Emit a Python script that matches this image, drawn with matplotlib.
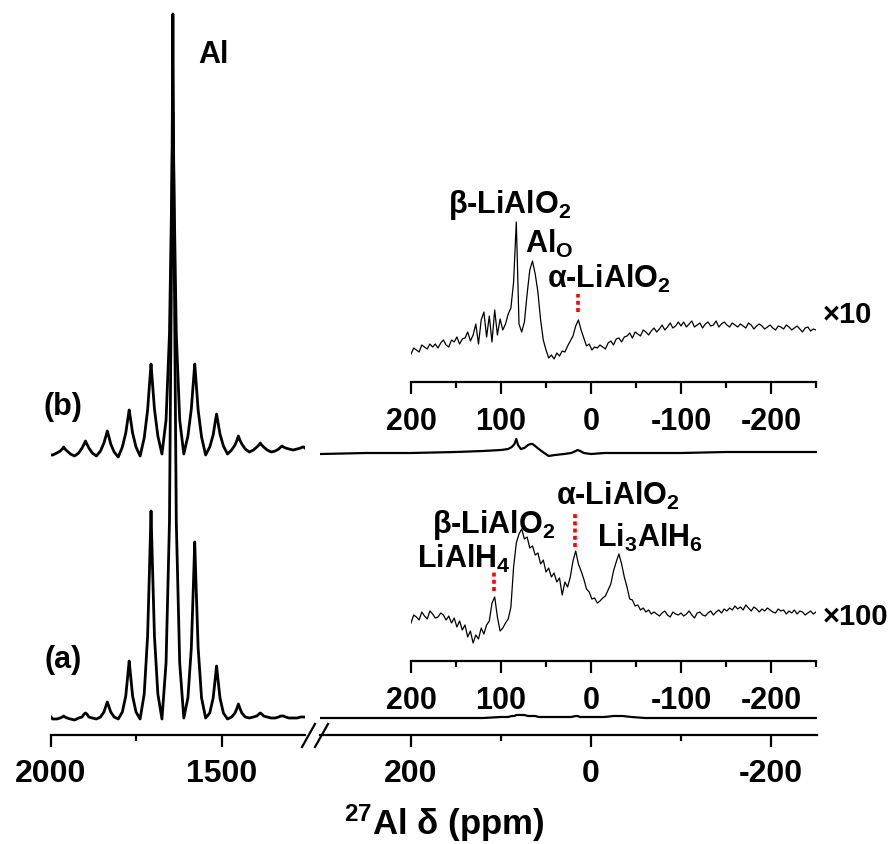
import numpy as np
import matplotlib
matplotlib.use('Agg')
import matplotlib.pyplot as plt
from matplotlib.lines import Line2D

plt.rcParams['font.family'] = ['Liberation Sans', 'DejaVu Sans']
plt.rcParams['font.weight'] = 'bold'
plt.rcParams['mathtext.fontset'] = 'custom'
plt.rcParams['mathtext.rm'] = 'Liberation Sans:bold'
plt.rcParams['mathtext.bf'] = 'Liberation Sans:bold'
plt.rcParams['mathtext.it'] = 'Liberation Sans:bold'
plt.rcParams['mathtext.default'] = 'rm'
plt.rcParams['axes.unicode_minus'] = False

# spinning sideband region (ppm) shared by both spectra
left_ppm = [2000, 1995,
            1983, 1973, 1967, 1963, 1959, 1953, 1943, 1931,
            1919, 1909, 1903, 1899, 1895, 1889, 1879, 1867,
            1855, 1845, 1839, 1835, 1831, 1825, 1815, 1803,
            1791, 1781, 1775, 1771, 1767, 1761, 1751, 1739,
            1727, 1717, 1711, 1707, 1703, 1697, 1687, 1675,
            1663, 1653, 1647, 1643, 1639, 1633, 1623, 1611,
            1599, 1589, 1583, 1579, 1575, 1569, 1559, 1547,
            1535, 1525, 1519, 1515, 1511, 1505, 1495, 1483,
            1471, 1461, 1455, 1451, 1447, 1441, 1431, 1419,
            1407, 1397, 1391, 1387, 1383, 1377, 1367, 1355,
            1343, 1333, 1327, 1323, 1319, 1313, 1303, 1291,
            1279, 1269, 1263, 1259, 1256]
left_a = [2, 0,
          0, 1, 2, 3, 2, 1, 0, -1,
          1, 2, 5, 6, 5, 2, 1, 0,
          2, 7, 13, 17, 13, 7, 2, 0,
          7, 23, 44, 58, 44, 23, 7, 0,
          25, 83, 156, 208, 156, 83, 25, 0,
          56, 197, 458, 705, 458, 197, 56, 1,
          21, 71, 133, 177, 133, 71, 21, 1,
          6, 21, 40, 53, 40, 21, 6, 0,
          2, 6, 11, 15, 11, 6, 2, 1,
          2, 3, 5, 6, 5, 3, 2, 1,
          1, 2, 3, 3, 3, 2, 1, 1,
          1, 2, 2, 2, 2]
left_b = [1, 1,
          3, 5, 7, 9, 7, 5, 2, 0,
          3, 8, 12, 15, 12, 8, 3, 0,
          5, 13, 20, 25, 20, 12, 4, -1,
          9, 23, 37, 46, 37, 23, 9, 0,
          18, 46, 74, 92, 74, 47, 20, 2,
          36, 122, 250, 344, 250, 122, 36, 2,
          20, 47, 74, 92, 74, 46, 19, 1,
          9, 21, 34, 42, 34, 22, 10, 2,
          6, 11, 16, 20, 16, 12, 7, 4,
          6, 9, 11, 13, 11, 9, 6, 4,
          5, 7, 9, 10, 9, 8, 7, 6,
          7, 8, 9, 9, 8]

# central region, full scale
right_ppm = [300, 250, 200, 150, 120, 100, 92, 88, 85, 83, 81, 78, 74, 70, 67, 65, 62, 58,
             52, 47, 40, 30, 22, 17, 15, 12, 8, 0, -15, -25, -30, -35, -45, -60, -100,
             -150, -200, -250]
right_a = [1, 1, 1, 1, 1, 2, 2, 3, 3, 4, 4, 4, 4, 3, 3, 3, 3, 2,
           2, 2, 2, 2, 2, 3, 3, 2, 2, 2, 2, 3, 3, 3, 2, 1, 1,
           1, 1, 1]
right_b = [2, 3, 3, 4, 5, 6, 7, 9, 12, 17, 11, 7, 8, 11, 12, 12, 10, 7,
           3, 0, 1, 2, 3, 5, 6, 5, 3, 2, 3, 3, 3, 3, 3, 3, 3,
           4, 4, 4]
offset_a = 16
offset_b = 279

# expanded insets, 200 .. -250 ppm in 3 ppm steps
ins_ppm = np.arange(200, -251, -3)
ins_b = [28, 34, 32, 30, 37, 35, 33, 38, 35, 38,
         34, 39, 42, 37, 35, 42, 40, 45, 38, 43,
         44, 50, 41, 47, 58, 38, 62, 70, 45, 66,
         40, 72, 47, 63, 52, 58, 68, 74, 100, 160,
         58, 50, 60, 88, 112, 121, 108, 90, 62, 42,
         32, 24, 27, 23, 29, 26, 31, 30, 36, 41,
         46, 56, 62, 52, 44, 36, 38, 32, 35, 34,
         37, 35, 33, 39, 41, 37, 43, 44, 40, 45,
         46, 49, 44, 50, 48, 46, 52, 50, 47, 51,
         54, 50, 53, 57, 52, 55, 59, 54, 56, 60,
         56, 60, 55, 58, 61, 55, 57, 59, 54, 58,
         60, 56, 57, 61, 55, 58, 60, 57, 55, 59,
         57, 55, 58, 56, 54, 59, 57, 53, 56, 58,
         56, 53, 55, 57, 54, 52, 56, 55, 53, 57,
         55, 52, 54, 56, 53, 50, 54, 55, 51, 53, 52]
ins_a = [38, 46, 44, 41, 49, 45, 42, 50, 47, 43,
         44, 48, 46, 41, 45, 38, 43, 34, 40, 31,
         36, 24, 30, 18, 26, 22, 33, 27, 36, 40,
         58, 64, 44, 30, 33, 38, 42, 54, 94, 118,
         127, 132, 122, 124, 113, 115, 106, 108, 97, 101,
         89, 93, 84, 88, 79, 83, 66, 79, 74, 84,
         100, 110, 97, 90, 82, 72, 69, 62, 63, 58,
         60, 63, 65, 71, 77, 90, 99, 107, 97, 84,
         74, 62, 61, 55, 56, 51, 53, 49, 51, 47,
         49, 47, 45, 48, 50, 46, 44, 49, 47, 46,
         48, 45, 47, 50, 46, 43, 48, 49, 46, 45,
         48, 50, 46, 49, 51, 48, 52, 50, 53, 51,
         55, 52, 54, 51, 56, 53, 50, 54, 52, 49,
         52, 50, 53, 51, 49, 48, 52, 50, 51, 47,
         50, 48, 51, 47, 50, 49, 46, 48, 50, 47, 49]

W, H = 896, 845
fig = plt.figure(figsize=(W / 100, H / 100), dpi=100)


def px_axes(x0, x1, y_top, y_bot):
    ax = fig.add_axes([x0 / W, 1 - y_bot / H, (x1 - x0) / W, (y_bot - y_top) / H])
    ax.set_facecolor('none')
    for s in ['top', 'left', 'right']:
        ax.spines[s].set_visible(False)
    ax.spines['bottom'].set_linewidth(1.6)
    ax.set_yticks([])
    ax.tick_params(axis='x', which='major', direction='out', length=8.6, width=1.6)
    ax.tick_params(axis='x', which='minor', direction='out', length=4.3, width=1.6)
    return ax


ax_l = px_axes(51, 305, 0, 736)
ax_r = px_axes(320, 817, 0, 736)
ax_ib = px_axes(411, 816, 200, 383)
ax_ia = px_axes(411, 816, 479, 662)

ax_l.plot(left_ppm, np.array(left_a) + offset_a, color='black', lw=2.0)
ax_l.plot(left_ppm, np.array(left_b) + offset_b, color='black', lw=2.0)
ax_l.set_xlim(2000, 1256)
ax_l.set_ylim(0, 736)
ax_l.set_xticks([2000, 1500])
ax_l.set_xticks([1750], minor=True)
ax_l.tick_params(axis='x', labelsize=23, pad=8)

ax_r.plot(right_ppm, np.array(right_a) + offset_a, color='black', lw=1.6)
ax_r.plot(right_ppm, np.array(right_b) + offset_b, color='black', lw=1.6)
ax_r.set_xlim(301, -251)
ax_r.set_ylim(0, 736)
ax_r.set_xticks([200, 0, -200])
ax_r.set_xticks([100, -100], minor=True)
ax_r.tick_params(axis='x', labelsize=23, pad=8)

for ax, vals in [(ax_ib, ins_b), (ax_ia, ins_a)]:
    ax.plot(ins_ppm, vals, color='black', lw=0.9)
    ax.set_xlim(200, -250)
    ax.set_ylim(0, 183)
    ax.set_xticks([200, 100, 0, -100, -200])
    ax.set_xticks([150, 50, -50, -150, -250], minor=True)
    ax.tick_params(axis='x', labelsize=22, pad=9)

dots = dict(color='red', lw=2.6, ls=(0, (1.1, 0.9)), dash_capstyle='butt')
ax_ib.plot([15, 15], [70, 88], **dots)
ax_ia.plot([108, 108], [70, 89], **dots)
ax_ia.plot([18, 18], [114, 149], **dots)

lab = dict(fontsize=22, fontweight='bold', ha='left', va='baseline')
ax_ib.text(159, 170, 'β-LiAlO$_2$', **lab)
ax_ib.text(73, 130, 'Al$_\\mathrm{O}$', **lab)
ax_ib.text(49, 95, 'α-LiAlO$_2$', **lab)
ax_ib.text(-257, 60, '×10', fontsize=21, fontweight='bold', ha='left', va='baseline')

ax_ia.text(193, 94, 'LiAlH$_4$', **lab)
ax_ia.text(177, 129, 'β-LiAlO$_2$', **lab)
ax_ia.text(39, 157, 'α-LiAlO$_2$', **lab)
ax_ia.text(-7, 115, 'Li$_3$AlH$_6$', **lab)
ax_ia.text(-257, 37, '×100', fontsize=21, fontweight='bold', ha='left', va='baseline')

ax_l.text(1569, 673, 'Al', **lab)
ax_l.text(2023, 321, '(b)', **lab)
ax_l.text(2018, 68, '(a)', **lab)

# axis break marks
for x0 in [302, 315]:
    fig.add_artist(Line2D([x0 / W, (x0 + 13) / W], [1 - 748 / H, 1 - 725 / H],
                          color='black', lw=1.6))

fig.text(444 / W, 1 - 835 / H, '$^{27}$Al δ (ppm)', ha='center', va='baseline',
         fontsize=25, fontweight='bold')

fig.savefig('out.png', dpi=100)
